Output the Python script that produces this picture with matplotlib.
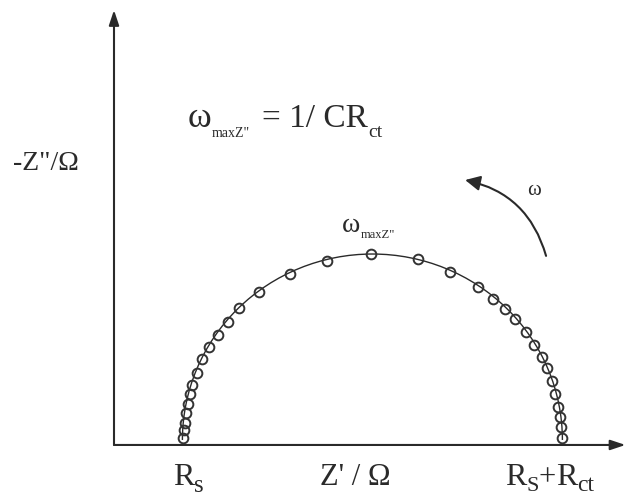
import matplotlib
matplotlib.use("Agg")
import matplotlib.pyplot as plt
from matplotlib.patches import Arc, FancyArrowPatch
from matplotlib.transforms import IdentityTransform

plt.rcParams['font.family'] = ['Liberation Serif', 'DejaVu Serif']

# Data (ohm)
Rs = 18.0
Rct = 100.0
z_real = [18.2, 18.4, 18.6, 18.9, 19.5, 20.0, 20.6, 21.8, 23.2, 25.0, 27.4, 30.1,
          33.0, 38.2, 46.3, 56.1, 67.6,
          79.9, 88.4, 95.9, 99.8, 102.9, 105.5, 108.3, 110.5, 112.6, 114.0, 115.2,
          116.1, 116.9, 117.4, 117.7, 118.0]
z_imag = [0.46, 2.7, 4.7, 7.3, 9.7, 12.4, 14.8, 18.0, 21.7, 24.9, 28.2, 31.8,
          35.5, 39.7, 44.6, 48.2, 49.9,
          48.6, 45.3, 41.0, 37.9, 35.2, 32.5, 29.1, 25.5, 22.4, 19.3, 15.8,
          12.4, 9.0, 6.2, 3.6, 0.46]

ink = '#2a2a2a'
W, H = 627, 498

fig = plt.figure(figsize=(6.27, 4.98), dpi=100)
ax = fig.add_axes([0, 0, 1, 1])
ax.set_xlim(-30, 135)
ax.set_ylim(-15.6, 118.3)
ax.axis('off')

# axes with arrows
y0 = -1.34
ax.annotate('', xy=(0, 115.6), xytext=(0, y0),
            arrowprops=dict(arrowstyle='-|>,head_length=0.9,head_width=0.3',
                            color=ink, lw=1.5, shrinkA=0, shrinkB=0))
ax.annotate('', xy=(134.6, y0), xytext=(0, y0),
            arrowprops=dict(arrowstyle='-|>,head_length=0.9,head_width=0.3',
                            color=ink, lw=1.5, shrinkA=0, shrinkB=0))

# fitted semicircle
arc = Arc((Rs + Rct / 2, 0), Rct, Rct, theta1=0, theta2=180,
          color=ink, lw=1.0)
ax.add_patch(arc)

# data points
ax.plot(z_real, z_imag, 'o', ms=7, mfc='none', mec='#333333', mew=1.4)

# frequency arrow
arr = FancyArrowPatch((113.7, 49.5), (92.4, 69.9),
                      connectionstyle='arc3,rad=0.3',
                      arrowstyle='-|>,head_length=9,head_width=4.5',
                      color=ink, lw=1.5, shrinkA=0, shrinkB=0)
ax.add_patch(arr)
ax.text(110.5, 67.2, 'ω', fontsize=15, ha='center', va='center', color=ink)

# rich text helper: pieces placed one after another (pixel layout)
renderer = fig.canvas.get_renderer()


def rich(x, y, parts):
    for s, fs, dy in parts:
        t = fig.text(x, H - (y + dy), s, fontsize=fs, transform=IdentityTransform(),
                     ha='left', va='baseline', color=ink)
        x = t.get_window_extent(renderer).x1


# labels
fig.text(13, H - 163, '-Z"/Ω', fontsize=20, transform=IdentityTransform(),
         ha='left', va='center', color=ink)
rich(188, 127, [('ω', 26, 0), ('maxZ"', 10, 10)])
rich(262, 127, [('= 1/ CR', 24, 0), ('ct', 14, 10)])
rich(342, 232, [('ω', 20, 0), ('maxZ"', 9, 6)])

rich(173, 485, [('R', 23, 0), ('s', 18, 7)])
fig.text(320, H - 485, "Z' / Ω", fontsize=22, transform=IdentityTransform(),
         ha='left', va='baseline', color=ink)
rich(505, 485, [('R', 23, 0), ('S', 16, 6), ('+', 22, 0), ('R', 23, 0), ('ct', 17, 6)])

fig.savefig('out.png', dpi=100)
